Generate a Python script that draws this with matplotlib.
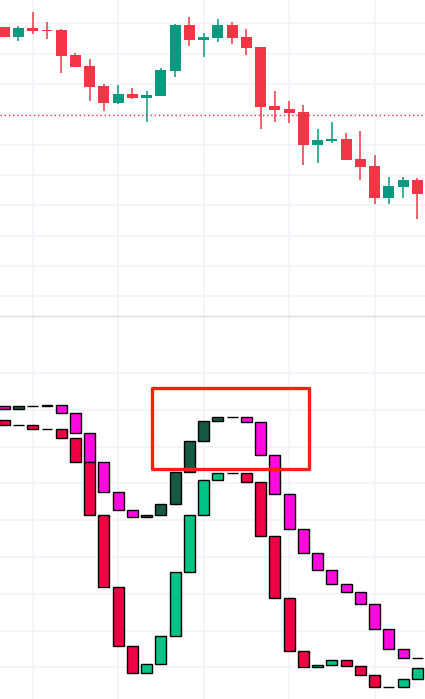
import numpy as np
import matplotlib
matplotlib.use("Agg")
import matplotlib.pyplot as plt
from matplotlib.patches import Rectangle

# price candles (top pane)
opens = [19.88, 19.56, 19.85, 19.78, 19.78, 18.95, 18.59, 17.93, 17.38, 17.67,
         17.55, 17.61, 18.44, 19.94, 19.46, 19.53, 19.94, 19.55, 19.22, 17.27,
         17.17, 17.08, 16.00, 16.12, 16.19, 15.53, 15.30, 14.25, 14.61, 14.83]
highs = [19.88, 19.91, 20.37, 20.04, 19.81, 19.02, 18.82, 18.00, 17.97, 17.87,
         17.77, 18.53, 19.98, 20.21, 19.68, 20.14, 20.04, 19.81, 19.22, 17.78,
         17.44, 17.31, 16.52, 16.75, 16.38, 16.45, 15.66, 14.93, 14.93, 14.90]
lows = [19.56, 19.43, 19.66, 19.49, 18.37, 18.57, 17.45, 17.12, 17.35, 17.51,
        16.76, 17.61, 18.24, 19.26, 18.90, 19.39, 19.33, 18.96, 16.52, 16.76,
        16.72, 15.34, 15.40, 16.06, 15.50, 14.84, 14.05, 14.05, 14.25, 13.56]
closes = [19.56, 19.85, 19.75, 19.76, 18.93, 18.57, 17.91, 17.38, 17.67, 17.55,
          17.64, 18.46, 19.94, 19.46, 19.55, 19.94, 19.53, 19.20, 17.25, 17.15,
          17.05, 16.00, 16.15, 16.19, 15.50, 15.27, 14.25, 14.64, 14.83, 14.38]
last_line = 16.97

# indicator boxes (bottom pane): start value + successive closes
upper_start = 7.09
upper_close = [7.03, 7.09, 7.09, 7.14, 6.92, 6.38, 5.59, 4.76, 4.27, 4.08,
               4.14, 4.43, 5.30, 6.16, 6.70, 6.79, 6.79, 6.68, 5.78, 4.70,
               3.76, 3.11, 2.65, 2.27, 2.05, 1.73, 1.03, 0.49, 0.24, 0.24]
lower_start = 6.73
lower_close = [6.59, 6.59, 6.49, 6.49, 6.22, 5.59, 4.14, 2.19, 0.57, -0.16,
               0.08, 0.86, 2.59, 4.14, 5.08, 5.27, 5.27, 5.03, 3.57, 1.89,
               0.43, 0.00, 0.05, 0.19, 0.03, -0.22, -0.54, -0.54, -0.32, -0.03]

bars = np.arange(len(closes))
W, H = 425, 699
sep = 382.7 / H

fig = plt.figure(figsize=(W / 100, H / 100), dpi=100)
ax1 = fig.add_axes([0, sep, 1, 1 - sep])
ax2 = fig.add_axes([0, 0, 1, sep])

grid_c = "#f0f3fa"
for ax in (ax1, ax2):
    ax.set_xlim(-0.298, 29.53)
    for s in ax.spines.values():
        s.set_visible(False)
    ax.set_xticks([2, 8, 14, 20, 26])
    ax.tick_params(length=0, labelbottom=False, labelleft=False)
    ax.grid(True, color=grid_c, lw=1.1, zorder=0)
    ax.set_axisbelow(True)

# --- top pane: candles
ax1.set_ylim(10.34, 20.768)
ax1.set_yticks(np.arange(11, 21))
up_c, dn_c = "#089981", "#f23645"
col = [up_c if c >= o else dn_c for o, c in zip(opens, closes)]
ax1.vlines(bars, lows, highs, colors=col, lw=1.1, zorder=2)
body_lo = np.minimum(opens, closes)
body_h = np.maximum(np.abs(np.array(closes) - np.array(opens)), 0.03)
ax1.bar(bars, body_h, bottom=body_lo, width=0.77, color=col, lw=0, zorder=3)
ax1.axhline(last_line, color=dn_c, lw=1.0, linestyle=(0, (1, 2)), zorder=4)

# --- bottom pane: boxes
ax2.set_ylim(-0.861, 9.54)
ax2.set_yticks(np.arange(0, 9))


def boxes(start, cl, c_up, c_dn):
    op = [start] + list(cl[:-1])
    op = np.array(op)
    cl = np.array(cl)
    colors = [c_up if c > o else c_dn for o, c in zip(op, cl)]
    ax2.bar(bars, cl - op, bottom=op, width=0.77, color=colors,
            edgecolor="black", lw=1.0, zorder=3)


boxes(upper_start, upper_close, "#165a45", "#ff0ade")
boxes(lower_start, lower_close, "#00c485", "#ef0045")

ax2.add_patch(Rectangle((10.35, 5.38), 11.01, 2.22, fill=False,
                        edgecolor="#ff1e12", lw=2.4, joinstyle="round",
                        zorder=5, clip_on=False))

fig.add_artist(plt.Line2D([0, 1], [sep, sep], color="#dcdce8", lw=1.0))

fig.savefig("out.png", dpi=100)
